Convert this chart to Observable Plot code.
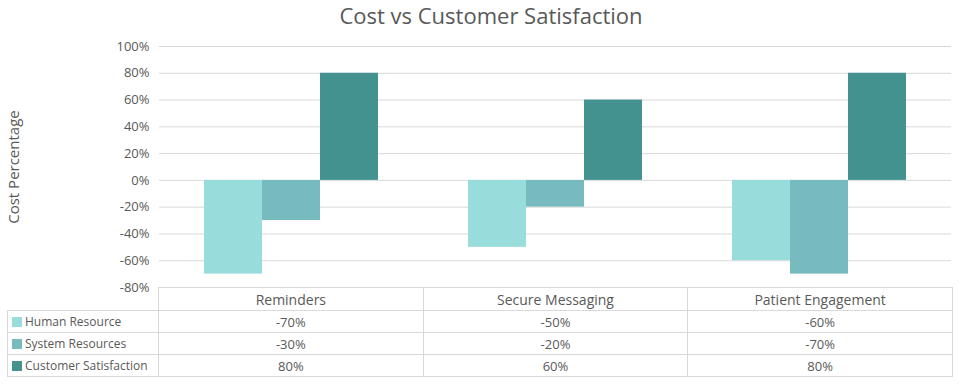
<!DOCTYPE html>
<html>
<head>
<meta charset="utf-8">
<script src="https://cdn.jsdelivr.net/npm/d3@7"></script>
<script src="https://cdn.jsdelivr.net/npm/@observablehq/plot@0.6"></script>
<style>
  html, body { margin: 0; padding: 0; background: #fff; }
  body { width: 960px; height: 384px; overflow: hidden; font-family: "Open Sans", sans-serif; color: #595959; }
  #title { height: 36px; line-height: 30px; font-size: 22px; font-weight: 400; text-align: center; padding-left: 22px; box-sizing: border-box; color: #595959; }
  #chart svg { overflow: visible; }
  table { border-collapse: collapse; margin-left: 7px; width: 945px; table-layout: fixed; position: relative; font-size: 13px; color: #595959; }
  td { border: 1px solid #d9d9d9; height: 21px; padding: 0; text-align: center; white-space: nowrap; overflow: hidden; }
  td.legend { text-align: left; padding-left: 4px; font-size: 12px; }
  tr.head td { font-size: 14px; height: 22px; }
  tr.head td.blank { border: none; border-right: 1px solid #d9d9d9; }
  .sw { display: inline-block; width: 10px; height: 10px; margin-right: 3px; vertical-align: -1px; }
</style>
</head>
<body>
<div id="title">Cost vs Customer Satisfaction</div>
<div id="chart"></div>
<table id="tbl"></table>
<script>
const categories = ["Reminders", "Secure Messaging", "Patient Engagement"];
const seriesNames = ["Human Resource", "System Resources", "Customer Satisfaction"];
const humanResource = [-70, -50, -60];
const systemResources = [-30, -20, -70];
const customerSatisfaction = [80, 60, 80];
const seriesColors = ["#98dcdb", "#78bbbe", "#44928f"];
const yTicks = [-80, -60, -40, -20, 0, 20, 40, 60, 80, 100];

const seriesValues = [humanResource, systemResources, customerSatisfaction];
const data = [];
categories.forEach((c, i) => {
  seriesNames.forEach((s, j) => data.push({category: c, series: s, value: seriesValues[j][i]}));
});

const chart = Plot.plot({
  width: 960,
  height: 251,
  marginTop: 10,
  marginBottom: 0,
  marginLeft: 158,
  marginRight: 8,
  style: {fontFamily: "'Open Sans', sans-serif", fontSize: "13px", color: "#595959", overflow: "visible", background: "transparent"},
  fx: {domain: categories, padding: 0, axis: null},
  x: {domain: seriesNames, paddingInner: 0, paddingOuter: 0.76, axis: null},
  y: {domain: [-80, 100], ticks: yTicks},
  color: {domain: seriesNames, range: seriesColors},
  marks: [
    Plot.gridY(yTicks, {stroke: "#d9d9d9", strokeOpacity: 1}),
    Plot.axisY(yTicks, {tickSize: 0, tickPadding: 10, tickFormat: d => d + "%", fontSize: 13, fill: "#595959", label: null}),
    Plot.axisY({tickSize: 0, ticks: [], label: "Cost Percentage", labelAnchor: "center", labelOffset: 151, labelArrow: "none", fontSize: 15, fill: "#595959"}),
    Plot.barY(data, {fx: "category", x: "series", y: "value", fill: "series"})
  ]
});
document.getElementById("chart").appendChild(chart);

// data table with legend
const tbl = document.getElementById("tbl");
const cg = document.createElement("colgroup");
[151, 264.67, 264.67, 264.66].forEach(w => { const c = document.createElement("col"); c.style.width = w + "px"; cg.appendChild(c); });
tbl.appendChild(cg);
const head = document.createElement("tr");
head.className = "head";
const blank = document.createElement("td"); blank.className = "blank"; head.appendChild(blank);
categories.forEach(c => { const td = document.createElement("td"); td.textContent = c; head.appendChild(td); });
tbl.appendChild(head);
seriesNames.forEach((s, j) => {
  const tr = document.createElement("tr");
  const lg = document.createElement("td"); lg.className = "legend";
  const sw = document.createElement("span"); sw.className = "sw"; sw.style.background = seriesColors[j];
  lg.appendChild(sw); lg.appendChild(document.createTextNode(s));
  tr.appendChild(lg);
  seriesValues[j].forEach(v => { const td = document.createElement("td"); td.textContent = v + "%"; tr.appendChild(td); });
  tbl.appendChild(tr);
});
</script>
</body>
</html>
